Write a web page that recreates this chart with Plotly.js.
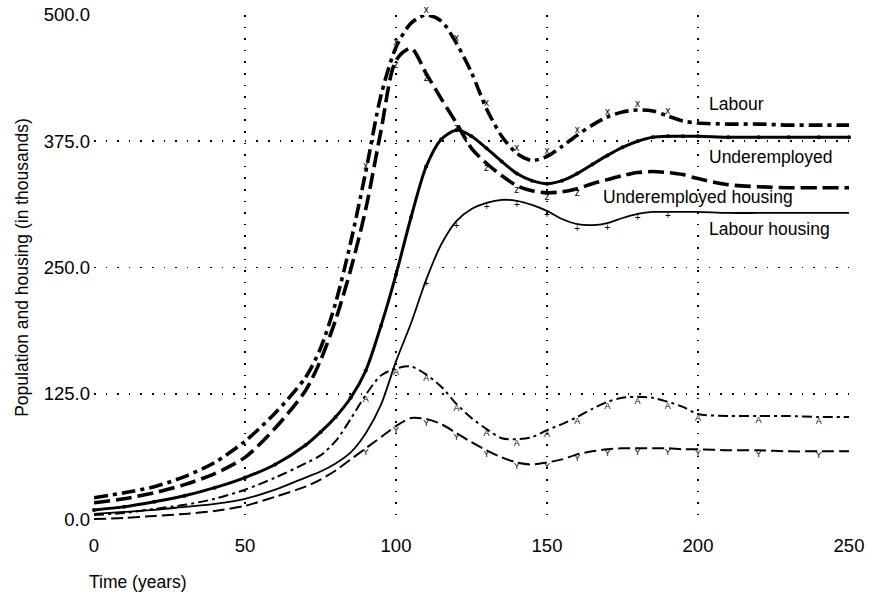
<!DOCTYPE html>
<html>
<head>
<meta charset="utf-8">
<script src="https://cdn.plot.ly/plotly-3.0.1.min.js"></script>
<style>html,body{margin:0;padding:0;background:#fff;}#chart{width:874px;height:593px;}</style>
</head>
<body>
<div id="chart"></div>
<script>
// Time (years)
const years = [0,10,20,30,40,50,60,70,75,80,85,90,95,100,105,110,115,120,125,130,135,140,145,150,155,160,165,170,175,180,185,190,195,200,210,220,230,240,250];

// Series (thousands)
const labour = [22,27,33,43,57,78,106,141,170,215,275,345,420,468,492,500,494,472,443,407,380,363,356,360,370,381,391,399,404,406,405,400,395,393,392,392,391,391,391];
const underemployedHousing = [17,21,27,35,46,62,91,128,158,198,248,308,385,455,467,442,417,393,368,353,341,331,326,324,325,328,333,337,341,344,345,344,342,338,332,330,329,329,329];
const underemployed = [10,13,18,24,32,42,55,74,87,102,121,148,192,243,300,350,377,386,380,368,355,343,336,333,336,343,352,361,369,375,379,380,380,380,379,379,379,379,379];
const labourHousing = [6,8,10,13,16,21,30,42,48,56,67,86,114,157,195,238,273,296,308,314,317,316,312,306,298,293,292,294,299,303,305,305,305,305,304,304,304,304,304];
const profHousing = [5,7,11,15,21,30,42,56,64,78,100,124,143,150,152,144,132,115,101,90,81,80,82,89,95,102,110,117,121,122,121,117,112,105,103,103,103,102,102];
const professional = [1,2,4,6,9,14,23,33,40,49,60,71,82,93,101,100,95,86,77,69,62,57,55,57,60,65,68,70,71,71,71,71,70,70,69,69,68,68,68];

// Labels
const seriesNames = ['Labour','Underemployed','Underemployed housing','Labour housing','Professional\u2013managerial housing','Professional\u2013managerial'];
const yTicks = [0,125,250,375,500];
const yTickText = ['0.0','125.0','250.0','375.0','500.0'];
const xTicks = [0,50,100,150,200,250];

function letters(ch, lo, hi){ return years.map((v,i)=> (i%2===1 && v>=lo && v<=hi) ? ch : ''); }

const FONT = 'Liberation Sans, Arial, sans-serif';
const traces = [
  {x:years,y:labour,name:seriesNames[0],mode:'lines+text',text:letters('x',90,195),textposition:'top center',textfont:{size:10,color:'#000',family:FONT},
   line:{color:'#000',width:3.6,dash:'14px,5px,4px,5px',shape:'spline',smoothing:0.8}},
  {x:years,y:underemployedHousing,name:seriesNames[2],mode:'lines+text',text:letters('z',100,160),textposition:'bottom center',textfont:{size:10,color:'#000',family:FONT},
   line:{color:'#000',width:3.6,dash:'16px,6px',shape:'spline',smoothing:0.8}},
  {x:years,y:underemployed,name:seriesNames[1],mode:'lines+markers',marker:{size:4,color:'#000'},
   line:{color:'#000',width:3,shape:'spline',smoothing:0.8}},
  {x:years,y:labourHousing,name:seriesNames[3],mode:'lines+text',text:letters('+',110,195),textposition:'bottom center',textfont:{size:10,color:'#000',family:FONT},
   line:{color:'#000',width:1.8,shape:'spline',smoothing:0.8}},
  {x:years,y:profHousing,name:seriesNames[4],mode:'lines+text',text:letters('A',90,240),textposition:'bottom center',textfont:{size:9,color:'#000',family:FONT},
   line:{color:'#000',width:2,dash:'10px,4px,3px,4px',shape:'spline',smoothing:0.8}},
  {x:years,y:professional,name:seriesNames[5],mode:'lines+text',text:letters('Y',90,240),textposition:'bottom center',textfont:{size:9,color:'#000',family:FONT},
   line:{color:'#000',width:2,dash:'12px,5px',shape:'spline',smoothing:0.8}}
];
traces.forEach(t=>{t.cliponaxis=false; t.hoverinfo='skip';});

const labelFont = {family:FONT, size:17.5, color:'#000'};
const annotations = [
  {x:203,y:412,text:seriesNames[0],xanchor:'left'},
  {x:203,y:359,text:seriesNames[1],xanchor:'left'},
  {x:168,y:320,text:seriesNames[2],xanchor:'left'},
  {x:203,y:288,text:seriesNames[3],xanchor:'left'},
  {x:251,y:144,text:seriesNames[4],xanchor:'right'},
  {x:251,y:46,text:seriesNames[5],xanchor:'right'}
].map(a=>Object.assign({xref:'x',yref:'y',showarrow:false,yanchor:'middle',font:labelFont},a));
annotations.push({xref:'paper',yref:'paper',x:0,y:0,xanchor:'left',yanchor:'top',xshift:-7,yshift:-50,
  showarrow:false,text:'Time (years)',font:{family:FONT,size:17.5,color:'#000'}});

const layout = {
  width:874,height:593,
  margin:{l:94,r:25,t:15,b:73},
  paper_bgcolor:'#fff',plot_bgcolor:'#fff',
  showlegend:false,
  font:{family:FONT,color:'#000'},
  xaxis:{range:[0,250],tickvals:xTicks,ticks:'',showline:false,zeroline:false,
    showgrid:true,gridcolor:'#000',gridwidth:1.6,griddash:'1.6px,10px',
    tickfont:{size:18.5,color:'#000'},ticklabelstandoff:12,fixedrange:true},
  yaxis:{range:[0,500],tickvals:yTicks,ticktext:yTickText,ticks:'',showline:false,zeroline:false,
    showgrid:true,gridcolor:'#000',gridwidth:1.6,griddash:'1.6px,10px',
    tickfont:{size:18.5,color:'#000'},ticklabelstandoff:3,fixedrange:true,
    title:{text:'Population and housing (in thousands)',font:{size:17.5,color:'#000'},standoff:10}},
  annotations:annotations
};
Plotly.newPlot('chart',traces,layout,{staticPlot:true,displayModeBar:false});
</script>
</body>
</html>
